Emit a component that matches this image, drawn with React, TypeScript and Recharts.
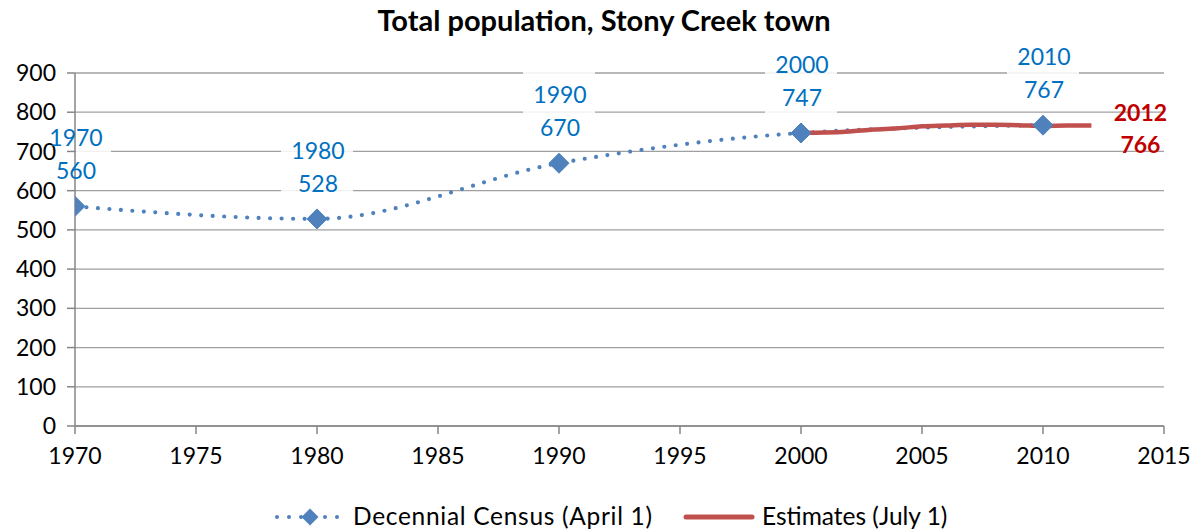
import React from 'react';
import {
  LineChart,
  Line,
  XAxis,
  YAxis,
  CartesianGrid,
  LabelList,
} from 'recharts';

// Decennial census counts (April 1)
const censusYears = [1970, 1980, 1990, 2000, 2010];
const censusPop = [560, 528, 670, 747, 767];

// Annual estimates (July 1)
const estimateYears = [2000, 2001, 2002, 2003, 2004, 2005, 2006, 2007, 2008, 2009, 2010, 2011, 2012];
const estimatePop = [747, 748, 751, 756, 759, 764, 766, 768, 768, 767, 765, 766, 766];

const xTicks = [1970, 1975, 1980, 1985, 1990, 1995, 2000, 2005, 2010, 2015];
const yTicks = [0, 100, 200, 300, 400, 500, 600, 700, 800, 900];

const censusData = censusYears.map((year, i) => ({ year, pop: censusPop[i] }));
const estimateData = estimateYears.map((year, i) => ({ year, pop: estimatePop[i] }));

const FONT = 'Lato, "Open Sans", sans-serif';
const BLUE = '#4F81BD';
const LABEL_BLUE = '#0070C0';
const RED = '#C0504D';
const DARK_RED = '#C00000';

// left edge of the plot area (margin.left + y axis width)
const PLOT_LEFT = 75;

const Diamond = (props: any) => {
  const { cx, cy } = props;
  if (cx == null || cy == null) return null;
  const r = 10;
  return (
    <polygon
      points={`${cx},${cy - r} ${cx + r},${cy} ${cx},${cy + r} ${cx - r},${cy}`}
      fill={BLUE}
      stroke={BLUE}
    />
  );
};

const CensusLabel = (props: any) => {
  const { x, y, value, index } = props;
  const year = censusYears[index];
  const yearY = y - 69;
  const valY = y - 36;
  const boxLeft = Math.max(x - 36, PLOT_LEFT + 1);
  return (
    <g>
      <rect x={boxLeft} y={yearY - 23} width={x + 36 - boxLeft} height={valY - yearY + 40} fill="#fff" fillOpacity={0.85} />
      <text x={x + 1} y={yearY} textAnchor="middle" dominantBaseline="central" fill={LABEL_BLUE} fontSize={23} fontFamily={FONT}>
        {year}
      </text>
      <text x={x + 1} y={valY} textAnchor="middle" dominantBaseline="central" fill={LABEL_BLUE} fontSize={23} fontFamily={FONT}>
        {value}
      </text>
    </g>
  );
};

const EstimateLabel = (props: any) => {
  const { x, y, value, index } = props;
  if (index !== estimateYears.length - 1) return null;
  return (
    <g>
      <text x={x + 49} y={y - 14} textAnchor="middle" dominantBaseline="central" fill={DARK_RED} fontSize={23} fontWeight="bold" fontFamily={FONT}>
        {estimateYears[index]}
      </text>
      <text x={x + 49} y={y + 18} textAnchor="middle" dominantBaseline="central" fill={DARK_RED} fontSize={23} fontWeight="bold" fontFamily={FONT}>
        {value}
      </text>
    </g>
  );
};

export default function App() {
  return (
    <div style={{ position: 'absolute', left: 0, top: 0, width: 1194, height: 531, background: '#fff', fontFamily: FONT }}>
      <div
        style={{
          position: 'absolute',
          top: 1,
          left: 14,
          width: 1180,
          textAlign: 'center',
          fontSize: 29,
          lineHeight: '38px',
          fontWeight: 'bold',
          color: '#000',
        }}
      >
        Total population, Stony Creek town
      </div>

      <LineChart width={1194} height={531} margin={{ top: 73, right: 30, left: 10, bottom: 65 }}>
        <CartesianGrid horizontal vertical={false} stroke="#a0a0a0" strokeWidth={1.3} />
        <XAxis
          dataKey="year"
          type="number"
          domain={[1970, 2015]}
          ticks={xTicks}
          height={40}
          stroke="#868686"
          strokeWidth={1.5}
          tickSize={8}
          tickMargin={14}
          tick={{ fill: '#000', fontSize: 23, fontFamily: FONT }}
          allowDataOverflow
        />
        <YAxis
          type="number"
          domain={[0, 900]}
          ticks={yTicks}
          width={65}
          stroke="#868686"
          strokeWidth={1.5}
          tickSize={8}
          tickMargin={11}
          tick={{ fill: '#000', fontSize: 23, fontFamily: FONT }}
          interval={0}
        />
        <Line
          data={censusData}
          dataKey="pop"
          type="monotone"
          stroke={BLUE}
          strokeWidth={4.2}
          strokeDasharray="0 11.5"
          strokeLinecap="round"
          dot={<Diamond />}
          activeDot={false}
          isAnimationActive={false}
        >
          <LabelList dataKey="pop" content={<CensusLabel />} />
        </Line>
        <Line
          data={estimateData}
          dataKey="pop"
          type="monotone"
          stroke={RED}
          strokeWidth={4.5}
          dot={false}
          activeDot={false}
          isAnimationActive={false}
        >
          <LabelList dataKey="pop" content={<EstimateLabel />} />
        </Line>
      </LineChart>

      <svg width={1194} height={30} style={{ position: 'absolute', left: 0, top: 502 }}>
        <line x1={277} y1={15} x2={338} y2={15} stroke={BLUE} strokeWidth={4} strokeDasharray="0 12" strokeLinecap="round" />
        <polygon points="310,6.5 318.5,15 310,23.5 301.5,15" fill={BLUE} />
        <line x1={686} y1={15} x2={752} y2={15} stroke={RED} strokeWidth={5} strokeLinecap="round" />
      </svg>
      <div style={{ position: 'absolute', left: 353, top: 500, fontSize: 24.5, lineHeight: '32px', letterSpacing: 0.7, color: '#000', whiteSpace: 'nowrap' }}>
        Decennial Census (April 1)
      </div>
      <div style={{ position: 'absolute', left: 762, top: 500, fontSize: 24.5, lineHeight: '32px', color: '#000', whiteSpace: 'nowrap' }}>
        Estimates (July 1)
      </div>
    </div>
  );
}
